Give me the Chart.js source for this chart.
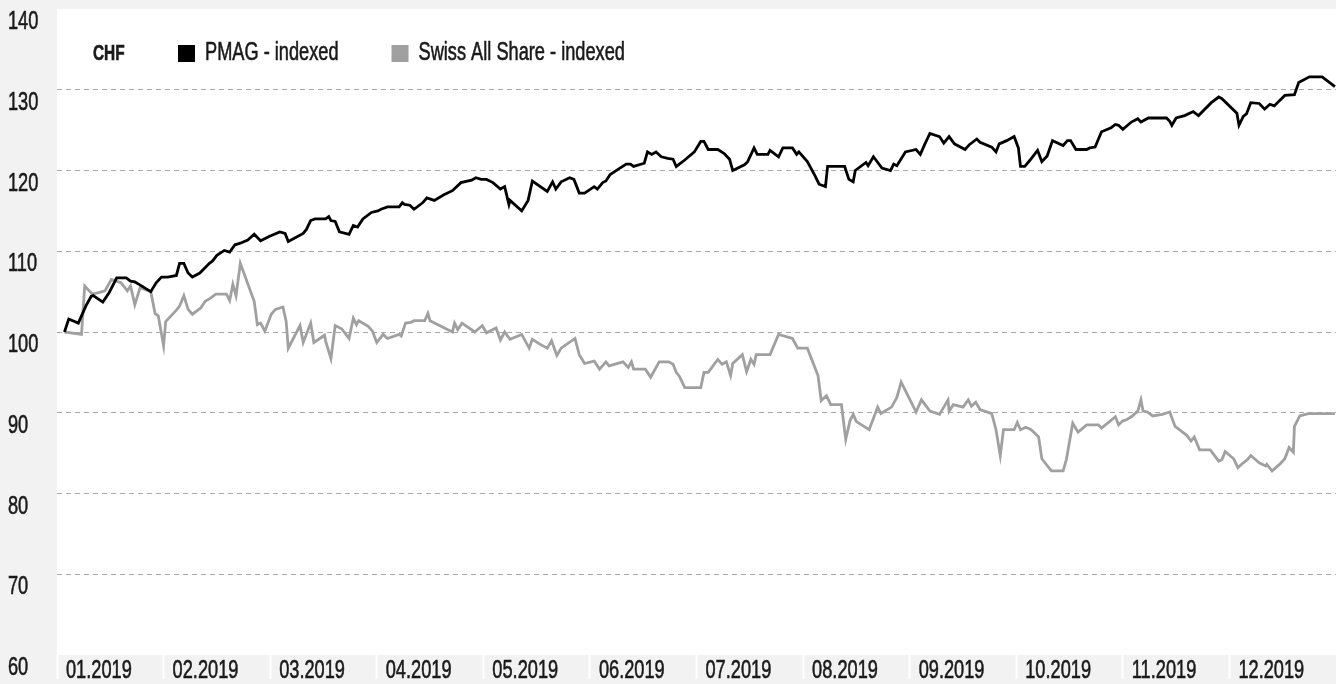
<!DOCTYPE html>
<html>
<head>
<meta charset="utf-8">
<script src="https://cdn.jsdelivr.net/npm/chart.js@4/dist/chart.umd.min.js"></script>
<style>
  html, body { margin: 0; padding: 0; background: #f2f2f2; }
  #wrap { width: 1336px; height: 684px; }
</style>
</head>
<body>
<div id="wrap"><canvas id="chart"></canvas></div>
<script>
// x positions are in months since 1 Jan 2019 (0 = start of January)
const monthLabels = ['01.2019', '02.2019', '03.2019', '04.2019', '05.2019', '06.2019',
                     '07.2019', '08.2019', '09.2019', '10.2019', '11.2019', '12.2019'];
const yTicks = [60, 70, 80, 90, 100, 110, 120, 130, 140];
const currency = 'CHF';

const pmagT = [0.07, 0.11, 0.20, 0.27, 0.32, 0.34, 0.43, 0.49, 0.56, 0.65, 0.69, 0.73, 0.77, 0.88, 0.93, 0.98,
  1.04, 1.12, 1.15, 1.19, 1.23, 1.27, 1.34, 1.43, 1.46, 1.50, 1.57, 1.62, 1.67, 1.72, 1.79, 1.85, 1.91, 2.00,
  2.09, 2.14, 2.17, 2.31, 2.34, 2.38, 2.42, 2.52, 2.55, 2.57, 2.61, 2.65, 2.74, 2.78, 2.82, 2.87, 2.95,
  3.01, 3.04, 3.10, 3.21, 3.24, 3.26, 3.31, 3.35, 3.43, 3.47, 3.54, 3.63, 3.71, 3.79, 3.89, 3.93, 3.98,
  4.03, 4.09, 4.16, 4.20, 4.24, 4.25, 4.36, 4.42, 4.46, 4.60, 4.65, 4.68, 4.73, 4.81, 4.85, 4.90, 4.95,
  5.04, 5.07, 5.12, 5.15, 5.19, 5.26, 5.34, 5.38, 5.41, 5.51, 5.54, 5.58, 5.62, 5.67, 5.73, 5.78, 5.81, 5.89, 5.98,
  6.04, 6.07, 6.11, 6.20, 6.26, 6.31, 6.34, 6.45, 6.48, 6.54, 6.57, 6.67, 6.69, 6.73, 6.77, 6.81, 6.90, 6.94, 6.96,
  7.04, 7.11, 7.15, 7.21, 7.23, 7.39, 7.43, 7.47, 7.49, 7.59, 7.61, 7.66, 7.74, 7.82, 7.85, 7.88, 7.96,
  8.06, 8.10, 8.14, 8.19, 8.28, 8.32, 8.37, 8.42, 8.52, 8.56, 8.63, 8.66, 8.77, 8.81, 8.84, 8.91, 8.98,
  9.02, 9.04, 9.08, 9.13, 9.20, 9.24, 9.29, 9.34, 9.44, 9.48, 9.51, 9.56, 9.66, 9.69, 9.74, 9.80, 9.89, 9.93, 9.96,
  10.00, 10.08, 10.14, 10.17, 10.24, 10.41, 10.44, 10.46, 10.50, 10.58, 10.66, 10.71, 10.83, 10.90, 10.93,
  11.07, 11.09, 11.13, 11.16, 11.20, 11.28, 11.33, 11.38, 11.42, 11.52, 11.61, 11.65, 11.75, 11.87, 11.99];
const pmagV = [100.0, 101.6, 101.1, 103.2, 104.4, 104.5, 103.7, 104.9, 106.7, 106.7, 106.3, 106.2, 105.9, 105.0, 106.1, 106.8,
  106.8, 107.0, 108.5, 108.5, 107.3, 106.8, 107.3, 108.5, 108.8, 109.5, 110.1, 109.9, 110.8, 111.0, 111.4, 112.1, 111.3, 111.9,
  112.4, 112.2, 111.2, 112.2, 112.7, 113.8, 114.0, 114.0, 114.3, 113.8, 113.7, 112.4, 112.1, 113.2, 113.0, 114.0, 114.8,
  115.0, 115.2, 115.5, 115.5, 116.0, 115.8, 115.7, 115.2, 116.0, 116.6, 116.3, 117.0, 117.5, 118.5, 118.8, 119.1, 118.9,
  118.9, 118.5, 117.7, 118.0, 115.8, 116.3, 115.0, 116.3, 118.7, 117.4, 118.6, 117.7, 118.6, 119.1, 118.9, 117.2, 117.2,
  118.0, 117.7, 118.5, 118.7, 119.5, 120.1, 120.8, 120.8, 120.5, 120.9, 122.3, 122.0, 122.3, 121.7, 121.5, 121.4, 120.5, 121.3, 122.3,
  123.6, 123.6, 122.6, 122.6, 122.1, 121.4, 120.0, 120.7, 121.1, 122.8, 122.0, 122.0, 122.5, 122.1, 121.7, 122.8, 122.8, 122.0, 122.3,
  121.1, 119.4, 118.3, 118.0, 120.5, 120.5, 118.9, 118.6, 120.0, 121.0, 120.6, 121.7, 120.3, 120.0, 120.8, 120.6, 122.3,
  122.6, 122.0, 123.2, 124.6, 124.2, 123.4, 124.2, 123.3, 122.6, 123.2, 123.9, 123.5, 122.9, 122.3, 123.3, 123.7, 124.2,
  122.8, 120.5, 120.5, 121.3, 122.5, 121.1, 121.8, 123.7, 123.1, 123.7, 123.7, 122.6, 122.6, 122.8, 122.9, 124.8, 125.3, 125.7, 125.6,
  125.1, 126.0, 126.4, 126.0, 126.5, 126.5, 126.1, 125.6, 126.5, 126.8, 127.3, 126.8, 128.4, 129.1, 128.9,
  127.1, 125.6, 126.7, 127.0, 128.4, 128.3, 127.6, 128.2, 128.0, 129.3, 129.4, 130.9, 131.6, 131.6, 130.4];

const sasT = [0.07, 0.23, 0.26, 0.33, 0.40, 0.45, 0.51, 0.60, 0.66, 0.69, 0.73, 0.78, 0.88, 0.92, 0.95,
  1.00, 1.02, 1.12, 1.15, 1.19, 1.23, 1.27, 1.35, 1.39, 1.44, 1.49, 1.59, 1.62, 1.65, 1.68, 1.72, 1.85, 1.88, 1.91, 1.95,
  2.01, 2.05, 2.12, 2.15, 2.17, 2.28, 2.31, 2.38, 2.41, 2.51, 2.52, 2.57, 2.61, 2.67, 2.74, 2.78, 2.81, 2.83, 2.92, 2.96,
  3.00, 3.06, 3.10, 3.21, 3.23, 3.27, 3.32, 3.35, 3.45, 3.48, 3.50, 3.71, 3.73, 3.76, 3.80, 3.92, 3.99,
  4.03, 4.12, 4.16, 4.20, 4.25, 4.36, 4.43, 4.46, 4.53, 4.60, 4.64, 4.69, 4.73, 4.86, 4.90, 4.95,
  5.04, 5.09, 5.15, 5.18, 5.31, 5.36, 5.39, 5.41, 5.52, 5.57, 5.65, 5.74, 5.78, 5.81, 5.84, 5.89,
  6.04, 6.07, 6.11, 6.20, 6.24, 6.28, 6.32, 6.34, 6.43, 6.47, 6.51, 6.54, 6.56, 6.69, 6.77, 6.90, 6.95,
  7.04, 7.14, 7.17, 7.22, 7.26, 7.36, 7.40, 7.44, 7.47, 7.50, 7.62, 7.70, 7.73, 7.83, 7.88, 7.92,
  8.06, 8.11, 8.19, 8.28, 8.36, 8.37, 8.41, 8.50, 8.55, 8.58, 8.62, 8.66, 8.77, 8.81, 8.85, 8.88, 8.98,
  9.01, 9.04, 9.09, 9.14, 9.21, 9.24, 9.30, 9.33, 9.44, 9.47, 9.53, 9.58, 9.66, 9.77, 9.80, 9.93, 9.96,
  10.00, 10.03, 10.08, 10.14, 10.17, 10.19, 10.23, 10.28, 10.37, 10.44, 10.49, 10.60, 10.64, 10.67, 10.72, 10.82, 10.90, 10.93, 10.96,
  11.04, 11.08, 11.13, 11.17, 11.20, 11.28, 11.34, 11.35, 11.40, 11.47, 11.52, 11.56, 11.60, 11.61, 11.66, 11.74, 11.99];
const sasV = [100.0, 99.7, 105.7, 104.7, 104.9, 105.1, 106.5, 106.1, 105.1, 105.7, 103.4, 105.5, 105.0, 102.3, 102.0,
  98.3, 101.3, 102.7, 103.2, 104.5, 102.8, 102.2, 103.0, 103.8, 104.2, 104.7, 104.7, 103.9, 105.9, 104.5, 108.5, 103.8, 100.9, 101.1, 100.1,
  102.2, 102.8, 103.1, 101.3, 98.0, 100.8, 98.7, 101.1, 98.7, 99.6, 98.9, 96.7, 100.8, 100.4, 99.2, 101.7, 100.9, 101.4, 100.7, 100.1,
  98.7, 99.7, 99.2, 99.7, 99.5, 101.1, 101.2, 101.4, 101.4, 102.3, 101.4, 100.0, 101.1, 100.3, 101.1, 100.0, 100.8,
  99.9, 100.5, 99.0, 100.0, 99.1, 99.7, 98.0, 99.1, 98.5, 98.0, 98.9, 97.1, 98.0, 99.2, 97.2, 96.1,
  96.4, 95.4, 96.3, 95.8, 96.3, 95.6, 96.3, 95.4, 95.4, 94.4, 96.3, 96.3, 96.0, 95.0, 94.5, 93.1,
  93.1, 95.0, 95.0, 96.6, 96.0, 96.3, 94.6, 96.1, 97.2, 95.1, 96.6, 96.0, 97.2, 97.2, 99.7, 99.2, 98.0,
  98.0, 94.6, 91.5, 92.1, 91.0, 91.0, 86.7, 89.0, 89.8, 88.9, 87.9, 90.7, 89.9, 90.7, 91.9, 93.8,
  90.1, 91.6, 90.2, 89.8, 91.6, 90.2, 91.0, 90.7, 91.6, 90.8, 91.3, 90.4, 89.9, 87.9, 84.7, 87.9, 87.9,
  88.8, 87.9, 88.2, 87.9, 87.0, 84.3, 83.3, 82.8, 82.8, 84.2, 88.7, 87.6, 88.5, 88.5, 88.1, 89.5, 88.5,
  89.0, 89.1, 89.5, 90.2, 91.6, 90.2, 90.1, 89.6, 89.8, 90.1, 88.3, 87.2, 86.5, 87.0, 85.4, 85.4, 84.0, 84.2, 85.2,
  84.3, 83.2, 83.8, 84.2, 84.7, 83.8, 83.4, 83.6, 82.8, 83.6, 84.3, 85.7, 85.1, 88.3, 89.6, 89.9, 89.9];

// no narrow face installed, so Liberation Sans gets squeezed horizontally
const FONT = "'Liberation Sans', Arial, sans-serif";
const SQUEEZE = 0.7;
const TEXT = '#1a1a1a';

function toPoints(xs, ys) {
    return xs.map((x, i) => ({ x: x, y: ys[i] }));
}

function narrowText(ctx, text, x, y) {
    ctx.save();
    ctx.translate(x, y);
    ctx.scale(SQUEEZE, 1);
    ctx.fillText(text, 0, 0);
    // slightly heavier strokes, closer to the original condensed face
    ctx.lineWidth = 0.6;
    ctx.strokeStyle = ctx.fillStyle;
    ctx.strokeText(text, 0, 0);
    const w = ctx.measureText(text).width * SQUEEZE;
    ctx.restore();
    return w;
}

// white plot background on the grey page
const plotBackground = {
    id: 'plotBackground',
    beforeDraw(chart) {
        const { ctx, chartArea: a } = chart;
        ctx.save();
        ctx.fillStyle = '#ffffff';
        ctx.fillRect(a.left, a.top, a.right - a.left, a.bottom - a.top);
        ctx.restore();
    }
};

// tick labels: left aligned, placed from the scales
const narrowTicks = {
    id: 'narrowTicks',
    afterDraw(chart) {
        const { ctx, scales: { x, y } } = chart;
        ctx.save();
        ctx.fillStyle = TEXT;
        ctx.font = '26px ' + FONT;
        ctx.textAlign = 'left';
        ctx.textBaseline = 'middle';
        x.ticks.forEach((t, i) => narrowText(ctx, monthLabels[i], x.getPixelForValue(t.value) + 9, x.top + 16));
        y.ticks.forEach(t => narrowText(ctx, String(t.value), 8, y.getPixelForValue(t.value) + 13));
        ctx.restore();
    }
};

// legend sits inside the plot, next to the currency
const inlineLegend = {
    id: 'inlineLegend',
    afterDraw(chart) {
        const ctx = chart.ctx;
        const y = 53;
        ctx.save();
        ctx.textAlign = 'left';
        ctx.textBaseline = 'middle';
        ctx.fillStyle = TEXT;
        ctx.font = 'bold 22px ' + FONT;
        narrowText(ctx, currency, 93, y + 1);
        ctx.font = '26px ' + FONT;
        let x = 178;
        chart.data.datasets.forEach(ds => {
            ctx.fillStyle = ds.borderColor;
            ctx.fillRect(x, y - 8, 17, 17);
            ctx.fillStyle = TEXT;
            const w = narrowText(ctx, ds.label, x + 27, y);
            x += 27 + w + 53;
        });
        ctx.restore();
    }
};

new Chart(document.getElementById('chart'), {
    type: 'line',
    data: {
        datasets: [
            {
                label: 'PMAG - indexed',
                data: toPoints(pmagT, pmagV),
                borderColor: '#000000',
                borderWidth: 2.8,
                pointRadius: 0,
                tension: 0
            },
            {
                label: 'Swiss All Share - indexed',
                data: toPoints(sasT, sasV),
                borderColor: '#a0a0a0',
                borderWidth: 2.8,
                pointRadius: 0,
                tension: 0
            }
        ]
    },
    options: {
        responsive: true,
        maintainAspectRatio: false,
        animation: false,
        layout: { padding: { left: 8, top: 9, right: 0, bottom: 0 } },
        plugins: {
            legend: { display: false },
            tooltip: { enabled: false }
        },
        scales: {
            x: {
                type: 'linear',
                min: 0,
                max: 12,
                afterBuildTicks: s => { s.ticks = monthLabels.map((_, i) => ({ value: i })); },
                afterFit: s => { s.height = 29; s.paddingLeft = 0; s.paddingRight = 0; },
                border: { display: false },
                grid: {
                    drawOnChartArea: false,
                    drawTicks: true,
                    tickLength: 24,
                    tickColor: '#ffffff',
                    tickWidth: 2
                },
                ticks: { display: false }
            },
            y: {
                min: yTicks[0],
                max: yTicks[yTicks.length - 1],
                afterBuildTicks: s => { s.ticks = yTicks.map(v => ({ value: v })); },
                afterFit: s => { s.width = 49; s.paddingTop = 0; s.paddingBottom = 0; },
                border: { display: false, dash: [5, 4] },
                grid: {
                    drawTicks: false,
                    color: c => (c.tick.value === 60 || c.tick.value === 140) ? 'rgba(0,0,0,0)' : '#a8a8a8',
                    lineWidth: 1
                },
                ticks: { display: false }
            }
        }
    },
    plugins: [plotBackground, narrowTicks, inlineLegend]
});
</script>
</body>
</html>
